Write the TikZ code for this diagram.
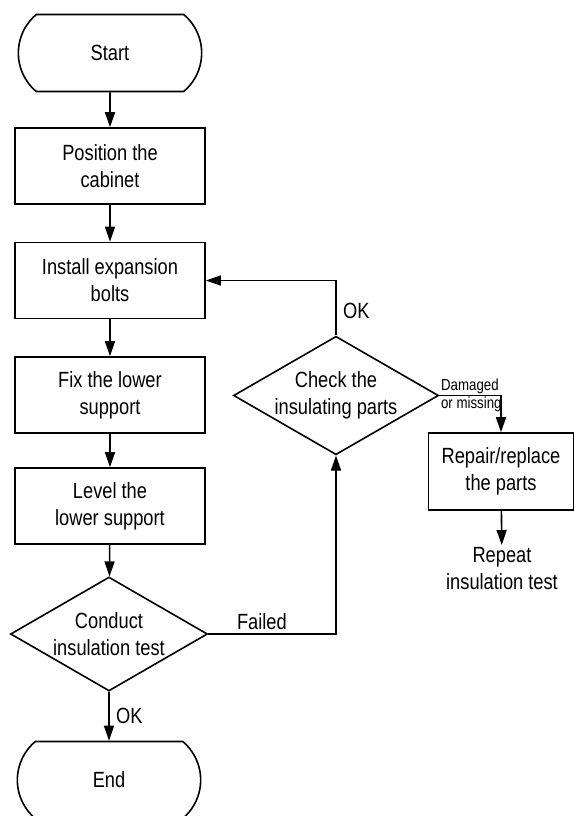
\documentclass[tikz,border=0pt]{standalone}
\usepackage{fontspec}
\setmainfont{Liberation Sans}[FakeStretch=0.83]
\usetikzlibrary{arrows.meta,shapes.geometric,shapes.misc,positioning}

\begin{document}
\begin{tikzpicture}[x=1pt, y=-1pt, ->, >={Triangle[length=15pt,width=10pt]}, line width=1.6pt,
  every node/.style={font=\fontsize{22}{27}\selectfont, align=center},
  term/.style={draw, rounded rectangle, rounded rectangle arc length=100, minimum width=190pt, minimum height=77pt},
  proc/.style={draw, rectangle, minimum width=190pt, minimum height=76pt, inner sep=0pt},
  decide/.style={draw, diamond, aspect=1.73, minimum width=197pt, minimum height=114pt, inner sep=0pt},
  small/.style={font=\fontsize{16}{20}\selectfont, inner sep=1pt}]
  \useasboundingbox (0,0) rectangle (574,816);

  \node[term] (start) at (110,53) {Start};
  \node[proc] (pos) at (110,166) {Position the\\cabinet};
  \node[proc] (bolts) at (110,280.5) {Install expansion\\bolts};
  \node[proc] (fix) at (110,395) {Fix the lower\\support};
  \node[proc] (level) at (110,506) {Level the\\lower support};
  \node[decide] (test) at (109,634) {Conduct\\insulation test};
  \node[term] (end) at (109,780) {End};

  \node[decide, minimum width=196pt, minimum height=113pt] (check) at (336,395.5) {Check the\\insulating parts};
  \node[proc, minimum width=145pt, minimum height=77pt] (repair) at (501,471.5) {Repair/replace\\the parts};
  \node[inner sep=2pt] (repeat) at (502,569) {Repeat\\insulation test};

  \draw (start) -- (pos);
  \draw (pos) -- (bolts);
  \draw (bolts) -- (fix);
  \draw (fix) -- (level);
  \draw (level) -- (test);
  \draw (test) -- node[right, xshift=3pt] {OK} (end);
  \draw (test.east) -- node[pos=0.42, above] {Failed} (test.east -| check.south) -- (check.south);
  \draw (check.north) |- node[pos=0.22, right, xshift=3pt] {OK} (bolts.east);
  \draw (check.east) -| node[pos=0, anchor=south west, small] {Damaged}
        node[pos=0, anchor=north west, small] {or missing} (repair.north);
  \draw (repair) -- (repeat);
\end{tikzpicture}
\end{document}
